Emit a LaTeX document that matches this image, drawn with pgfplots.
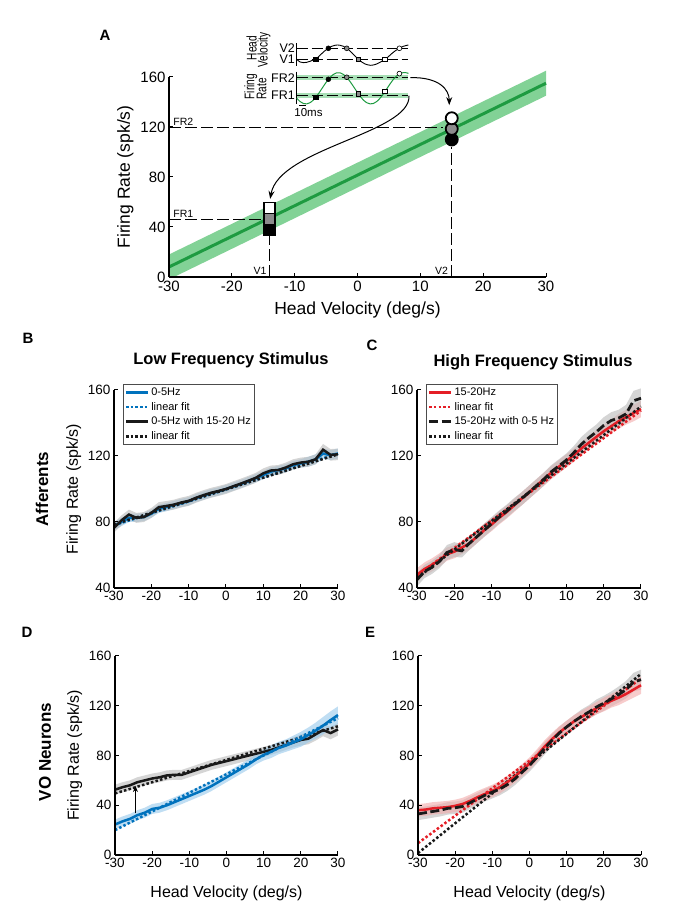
\documentclass[border=0pt]{standalone}
\usepackage{pgfplots}
\pgfplotsset{compat=1.18}
\usepgfplotslibrary{fillbetween}
\usepackage{pgfplotstable}
\usetikzlibrary{arrows.meta}
\usepackage{fontspec}
\setmainfont{Liberation Sans}

\definecolor{grline}{RGB}{30,155,65}
\definecolor{grband}{RGB}{130,210,150}
\definecolor{mblue}{RGB}{0,114,189}
\definecolor{bband}{RGB}{150,200,235}
\definecolor{mred}{RGB}{228,30,38}
\definecolor{rband}{RGB}{242,170,170}
\definecolor{kband}{RGB}{185,185,185}
\definecolor{mgray}{RGB}{140,140,140}

\newcommand{\fs}[1]{\fontsize{#1}{#1}\selectfont}
\newcommand{\sq}[1]{\scalebox{0.72}[1]{#1}}

% B: afferents, low frequency (b = 0-5Hz, k = 0-5Hz with 15-20Hz)
\pgfplotstableread{
x b be k ke
-30 77.5 2.5 76.5 3
-28 80 2.5 81 3
-26 82.5 2.5 84.5 3
-24 82.5 2.5 82.5 3
-22 83 2.5 83 3
-20 85 2.5 85.5 3
-18 88 2.5 89 3
-16 89 2.5 89.7 3
-14 90.3 2.5 90.5 3
-12 91.5 2.5 91.8 3
-10 92.5 2.5 92.8 3
-8 94.5 2.5 94.7 3
-6 96 2.5 96.3 3
-4 97.5 2.5 97.7 3
-2 98.5 2.5 98.8 3
0 100 2.5 100 3
2 101.5 2.5 101.7 3
4 103 2.5 103.3 3
6 104.8 2.5 105 3
8 106.5 2.5 106.8 3
10 108.5 2.5 109.5 3
12 110.5 2.5 111.2 3
14 111.5 2.5 111.5 3
16 112.5 2.5 113 3
18 114.5 2.5 115 3
20 115.5 2.5 116 3
22 116.5 3 116.5 3
24 118 3 118 3
26 121.5 3 123.8 3.5
28 120.5 3 120.7 3.5
30 121.5 3 121 3.5
}\tabB

% C: afferents, high frequency (r = 15-20Hz, k = 15-20Hz with 0-5Hz)
\pgfplotstableread{
x r re k ke
-30 48 4 45 4
-28 51.5 4 50 4
-26 54 4 52.5 4
-24 57 4 56 4
-22 60.5 4 61.5 4.5
-20 62 4 63.3 4.5
-18 64.5 4 62.5 4
-16 67 4 67 4
-14 71 4 71 4
-12 75 4 75 4
-10 78.5 4 79 4
-8 82.5 4 83 4
-6 86 4 86.5 4
-4 90 4 90.5 4
-2 94 4 94 4
0 98 4 98 4
2 102 4 102 4
4 106 4 106 4
6 110 4 110.5 4
8 113.5 4 114 4
10 117 4 117.5 4
12 120.5 4 122 4
14 124.5 4 127 4.5
16 128 4 131 4.5
18 131.5 4 134.5 4.5
20 135 4 138.5 5
22 138 4 141.5 5
24 141 4.5 143 5
26 143.5 4.5 145.5 5.5
28 146 5 153.5 6
30 148.5 5 155 6
}\tabC

% D: VO neurons, low frequency
\pgfplotstableread{
x b be k ke
-30 24.5 4 52.5 4
-28 27 4 54.5 4
-26 29 4 56 4
-24 32 4 58.5 4
-22 34 4 60 4
-20 37 4 61.5 4
-18 38 4 62.5 4
-16 40 4 64 4
-14 42.5 4 64.5 4
-12 45 4 64.5 4
-10 47.5 4 66.5 4
-8 50 4 68.5 4
-6 52.5 4 70.5 4
-4 55.5 4 72.5 4
-2 59 4 74 4
0 62.5 4 75.5 4
2 66 4 77 4
4 69.5 4 78.5 4
6 73 4 80 4
8 77 4 81.5 4
10 80.5 4.5 83 4
12 83 5 84.5 4
14 86 5 86.5 4
16 88 5 88.5 4
18 90.5 5.5 90.5 4
20 93 6 92.5 4.5
22 96.5 6 93.5 4.5
24 100 6.5 97 5
26 104 7 100.5 5
28 108.5 7 98 5
30 112.5 7 101 5
}\tabD

% E: VO neurons, high frequency
\pgfplotstableread{
x r re k ke
-30 36 5 33 5
-28 36.5 5 34 5
-26 37.5 5 35 5
-24 38 5 36 5
-22 38.5 5 37.5 5
-20 39.5 5 38 5
-18 41 5 39 5
-16 43.5 5 42 5
-14 46.5 5 45 5
-12 49 5 48 5
-10 51.5 5 50.5 5
-8 54.5 5 53 5
-6 58.5 5 56.5 5
-4 63 5 61 5
-2 68 5 66.5 5
0 73.5 5 72 5
2 80 5 78.5 5
4 87 5 85.5 5
6 93 5 92 5
8 98.5 5 98 5
10 103 5 103 5
12 107.5 5 107.5 5
14 111 5 111.5 5.5
16 114.5 5 115 5.5
18 118 5 119 6
20 121 5.5 122 6
22 124 5.5 125.5 6
24 126.5 6 129 6.5
26 129.5 6 133 7
28 133 6.5 139 7.5
30 136.5 7 141 8
}\tabE

\pgfplotsset{
  panel/.style={scale only axis, anchor=south west, axis lines*=left, axis on top,
    xmin=-30, xmax=30, xtick={-30,-20,...,30},
    axis line style={line width=2.5pt},
    tick style={black, line width=1pt}, major tick length=3.5pt,
    tick align=inside,
    tick label style={font=\fs{13.5}},
    label style={font=\fs{16}},
    xlabel style={yshift=-11pt},
    /pgf/number format/assume math mode=true,
    clip=false},
  dat/.style={line width=2.5pt},
  fit/.style={line width=2.5pt, dash pattern=on 2.5pt off 2.2pt},
  kdash/.style={line width=2.8pt, dash pattern=on 9pt off 3.5pt},
  leg/.style={legend cell align=left,
    legend style={at={(0.04,1.03)}, anchor=north west, font=\fs{11},
      draw=black!70, line width=0.6pt, inner sep=1.5pt, row sep=1.2pt, fill=white},
    legend image code/.code={\draw[##1] (0pt,0pt) -- (22pt,0pt);}},
  ref/.style={black, line width=0.9pt, dash pattern=on 12pt off 4pt},
  msq/.style={only marks, mark=square*, mark size=2.4pt,
    mark options={draw=black, line width=0.6pt, fill=#1}},
  mci/.style={only marks, mark=*, mark size=2.4pt,
    mark options={draw=black, line width=0.6pt, fill=#1}},
  inset/.style={scale only axis, anchor=south west, width=111.7pt,
    xmin=290, xmax=625, y dir=reverse, axis x line=none, axis y line*=left,
    ytick=\empty, axis line style={line width=0.9pt}, clip=false},
}

% band = y +/- err, drawn from table columns
\newcommand{\band}[5]{%
  \addplot[name path=#5u, draw=none, forget plot] table[x=x, y expr=\thisrow{#2}+\thisrow{#3}] {#1};
  \addplot[name path=#5l, draw=none, forget plot] table[x=x, y expr=\thisrow{#2}-\thisrow{#3}] {#1};
  \addplot[fill=#4, opacity=0.6, draw=none, forget plot] fill between[of=#5u and #5l];
}

\begin{document}
\begin{tikzpicture}
\path (0,0) rectangle (683pt,919pt);

%% ---------- A ----------
\begin{axis}[panel, at={(169pt,642pt)}, width=377pt, height=200pt,
  ymin=0, ymax=160, ytick={0,40,...,160},
  tick label style={font=\fs{15}},
  label style={font=\fs{17.5}},
  xlabel style={yshift=7pt},
  xlabel={Head Velocity (deg/s)}, ylabel={Firing Rate (spk/s)}]
  \addplot[fill=grband, draw=none] coordinates {(-30,0) (-30,18) (30,165) (30,145) (-29.2,0)} -- cycle;
  \addplot[grline, line width=3pt] coordinates {(-30,8) (30,155)};
  \addplot[ref] coordinates {(-30,120) (13.6,120)};
  \addplot[ref] coordinates {(-30,46) (-14,46)};
  \addplot[ref] coordinates {(-14,0) (-14,33)};
  \addplot[ref] coordinates {(15,0) (15,104)};
  \addplot[only marks, mark=square*, mark size=5.5pt, mark options={draw=black, line width=1.6pt, fill=black}] coordinates {(-14,37.6)};
  \addplot[only marks, mark=square*, mark size=5.5pt, mark options={draw=black, line width=1.6pt, fill=mgray}] coordinates {(-14,46.4)};
  \addplot[only marks, mark=square*, mark size=5.5pt, mark options={draw=black, line width=1.6pt, fill=white}] coordinates {(-14,55.2)};
  \addplot[only marks, mark=*, mark size=6pt, mark options={draw=black, line width=1.8pt, fill=black}] coordinates {(15,110)};
  \addplot[only marks, mark=*, mark size=6pt, mark options={draw=black, line width=1.8pt, fill=mgray}] coordinates {(15,118.5)};
  \addplot[only marks, mark=*, mark size=6pt, mark options={draw=black, line width=1.8pt, fill=white}] coordinates {(15,127)};
  \node[font=\fs{10.5}, anchor=south west, inner sep=1pt] at (axis cs:-29.5,120.5) {FR2};
  \node[font=\fs{10.5}, anchor=south west, inner sep=1pt] at (axis cs:-29.5,46.5) {FR1};
  \node[font=\fs{10.5}, anchor=south east, inner sep=1pt] at (axis cs:-14.3,1) {V1};
  \node[font=\fs{10.5}, anchor=south east, inner sep=1pt] at (axis cs:14.6,1) {V2};
  \draw[line width=1pt, -{Stealth[length=8pt, width=6pt]}]
    (axis cs:8.4,159.5) .. controls (axis cs:13,160) and (axis cs:14.6,150) .. (axis cs:14.6,137.5);
  \draw[line width=1pt, -{Stealth[length=8pt, width=6pt]}]
    (axis cs:8.2,145) .. controls (axis cs:8.5,115) and (axis cs:-12.5,103) .. (axis cs:-13.9,62.5);
\end{axis}

%% inset: head velocity
\begin{axis}[inset, at={(296.7pt,853pt)}, height=22.7pt, ymin=70, ymax=138]
  \addplot[ref, dash pattern=on 11pt off 4pt] coordinates {(290,85) (625,85)};
  \addplot[ref, dash pattern=on 11pt off 4pt] coordinates {(290,118) (625,118)};
  \addplot[black, line width=0.9pt, smooth] coordinates {
    (290,118) (300,126) (310,128) (320,127) (330,124) (340,120) (347,118)
    (355,111) (365,101) (375,92) (385,85) (395,79) (405,76) (412,75) (420,76)
    (430,79) (440,85) (450,93) (460,103) (470,113) (475,118) (485,126) (495,132)
    (505,135) (512,136) (520,135) (530,132) (540,127) (548,122) (555,118)
    (565,110) (575,101) (585,93) (598,85) (610,79) (625,75)};
  \addplot[msq=black] coordinates {(347,118)};
  \addplot[mci=black] coordinates {(385,85)};
  \addplot[mci=mgray] coordinates {(440,85)};
  \addplot[msq=mgray] coordinates {(475,118)};
  \addplot[msq=white] coordinates {(555,118)};
  \addplot[mci=white] coordinates {(598,85)};
\end{axis}

%% inset: firing rate
\begin{axis}[inset, at={(296.7pt,814.7pt)}, height=32.7pt, ymin=155, ymax=253]
  \addplot[fill=grband!70, draw=none] coordinates {(290,166) (625,166) (625,180) (290,180)} -- cycle;
  \addplot[fill=grband!70, draw=none] coordinates {(290,219) (625,219) (625,233) (290,233)} -- cycle;
  \addplot[ref, dash pattern=on 11pt off 4pt] coordinates {(290,173) (625,173)};
  \addplot[ref, dash pattern=on 11pt off 4pt] coordinates {(290,226) (625,226)};
  \addplot[grline, line width=1pt, smooth] coordinates {
    (290,234.7) (300,244.7) (310,250.6) (320,251.8) (330,248.2) (340,240.2)
    (350,228.5) (360,214.4) (370,199.3) (380,184.8) (390,172.4) (400,163.4)
    (410,158.6) (420,158.6) (430,163.4) (440,172.4) (450,184.8) (460,199.3)
    (470,214.4) (480,228.5) (490,240.2) (500,248.2) (510,251.8) (520,250.6)
    (530,244.7) (540,234.7) (550,221.7) (560,206.9) (570,191.9) (580,178.3)
    (590,167.4) (600,160.4) (610,158) (620,158.6) (625,160.4)};
  \addplot[msq=black] coordinates {(347,232)};
  \addplot[mci=black] coordinates {(385,178)};
  \addplot[mci=mgray] coordinates {(440,172)};
  \addplot[msq=mgray] coordinates {(475,221)};
  \addplot[msq=white] coordinates {(555,214)};
  \addplot[mci=white] coordinates {(598,161)};
\end{axis}

\node[font=\fs{12.5}, anchor=east, inner sep=0pt] at (295pt,871pt) {V2};
\node[font=\fs{12.5}, anchor=east, inner sep=0pt] at (295pt,860pt) {V1};
\node[font=\fs{12.5}, anchor=east, inner sep=0pt] at (295pt,841.3pt) {FR2};
\node[font=\fs{12.5}, anchor=east, inner sep=0pt] at (295pt,823.7pt) {FR1};
\node[font=\fs{14}, rotate=90, inner sep=0pt] at (251.7pt,871pt) {\sq{Head}};
\node[font=\fs{14}, rotate=90, inner sep=0pt] at (264pt,869pt) {\sq{Velocity}};
\node[font=\fs{14}, rotate=90, inner sep=0pt] at (250.7pt,832.3pt) {\sq{Firing}};
\node[font=\fs{14}, rotate=90, inner sep=0pt] at (261.7pt,830pt) {\sq{Rate}};
\draw[line width=1pt] (299pt,813.3pt) -- (306pt,813.3pt);
\node[font=\fs{11.5}, inner sep=0pt] at (308.5pt,806.7pt) {10ms};

%% ---------- B ----------
\begin{axis}[panel, leg, at={(114pt,331pt)}, width=224pt, height=198pt,
  ymin=40, ymax=160, ytick={40,80,...,160}, ylabel={Firing Rate (spk/s)}]
  \band{\tabB}{b}{be}{bband}{Bb}
  \band{\tabB}{k}{ke}{kband}{Bk}
  \addplot[mblue, dat] table[x=x, y=b] {\tabB};
  \addlegendentry{0-5Hz}
  \addplot[mblue, fit] coordinates {(-30,78) (30,121.5)};
  \addlegendentry{linear fit}
  \addplot[black!90, dat] table[x=x, y=k] {\tabB};
  \addlegendentry{0-5Hz with 15-20 Hz}
  \addplot[black!90, fit] coordinates {(-30,78.5) (30,121)};
  \addlegendentry{linear fit}
\end{axis}

%% ---------- C ----------
\begin{axis}[panel, leg, at={(417pt,331pt)}, width=224pt, height=198pt,
  ymin=40, ymax=160, ytick={40,80,...,160}]
  \band{\tabC}{r}{re}{rband}{Cr}
  \band{\tabC}{k}{ke}{kband}{Ck}
  \addplot[mred, dat] table[x=x, y=r] {\tabC};
  \addlegendentry{15-20Hz}
  \addplot[mred, fit] coordinates {(-30,47.5) (30,147.5)};
  \addlegendentry{linear fit}
  \addplot[black!90, kdash] table[x=x, y=k] {\tabC};
  \addlegendentry{15-20Hz with 0-5 Hz}
  \addplot[black!90, fit] coordinates {(-30,46) (30,150)};
  \addlegendentry{linear fit}
\end{axis}

%% ---------- D ----------
\begin{axis}[panel, at={(115pt,64pt)}, width=223pt, height=199pt,
  ymin=0, ymax=160, ytick={0,40,...,160},
  xlabel={Head Velocity (deg/s)}, ylabel={Firing Rate (spk/s)}]
  \band{\tabD}{k}{ke}{kband}{Dk}
  \band{\tabD}{b}{be}{bband}{Db}
  \addplot[black!90, dat] table[x=x, y=k] {\tabD};
  \addplot[black!90, fit] coordinates {(-30,49.5) (30,103.5)};
  \addplot[mblue, dat] table[x=x, y=b] {\tabD};
  \addplot[mblue, fit] coordinates {(-30,20) (30,110)};
  \draw[line width=0.9pt, -{Stealth[length=6pt, width=5pt]}] (axis cs:-24.5,33.5) -- (axis cs:-24.5,55.5);
\end{axis}

%% ---------- E ----------
\begin{axis}[panel, at={(418pt,64pt)}, width=223pt, height=199pt,
  ymin=0, ymax=160, ytick={0,40,...,160},
  xlabel={Head Velocity (deg/s)}]
  \band{\tabE}{k}{ke}{kband}{Ek}
  \band{\tabE}{r}{re}{rband}{Er}
  \addplot[mred, fit] coordinates {(-30,9.5) (30,142)};
  \addplot[black!90, fit] coordinates {(-30,1.5) (30,145.5)};
  \addplot[mred, dat] table[x=x, y=r] {\tabE};
  \addplot[black!90, kdash] table[x=x, y=k] {\tabE};
\end{axis}

%% panel letters, titles, row labels
\node[font=\bfseries\fs{15}] at (105pt,884pt) {A};
\node[font=\bfseries\fs{15}] at (28pt,580.5pt) {B};
\node[font=\bfseries\fs{15}] at (372pt,574pt) {C};
\node[font=\bfseries\fs{15}] at (27pt,287pt) {D};
\node[font=\bfseries\fs{15}] at (370pt,287pt) {E};
\node[font=\bfseries\fs{16.5}] at (231pt,559pt) {Low Frequency Stimulus};
\node[font=\bfseries\fs{16.5}] at (533pt,557pt) {High Frequency Stimulus};
\node[font=\bfseries\fs{17}, rotate=90] at (42pt,430pt) {Afferents};
\node[font=\bfseries\fs{17}, rotate=90] at (45pt,167pt) {VO Neurons};
\end{tikzpicture}
\end{document}
